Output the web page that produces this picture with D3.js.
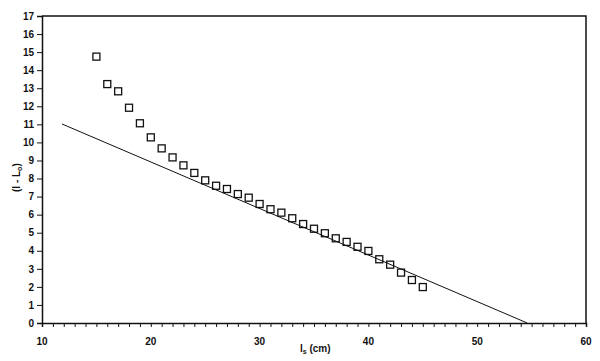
<!DOCTYPE html>
<html><head><meta charset="utf-8">
<script src="https://cdn.jsdelivr.net/npm/d3@7"></script>
<style>body{margin:0;background:#fff}svg{display:block}text{font-family:"Liberation Sans",Arial,sans-serif;font-weight:bold;fill:#111}</style>
</head><body><svg id="c" width="600" height="361"></svg>
<script>
const xValues = [15,16,17,18,19,20,21,22,23,24,25,26,27,28,29,30,31,32,33,34,35,36,37,38,39,40,41,42,43,44,45];
const yValues = [14.75,13.23,12.83,11.92,11.06,10.28,9.67,9.17,8.73,8.31,7.9,7.6,7.42,7.14,6.94,6.59,6.3,6.11,5.8,5.48,5.22,4.97,4.69,4.49,4.22,3.99,3.53,3.23,2.79,2.38,1.99];
const fitLine = [[11.84,11.02],[54.6,0]];
const xTicks = [10,20,30,40,50,60];
const yTicks = [0,1,2,3,4,5,6,7,8,9,10,11,12,13,14,15,16,17];

const svg = d3.select("#c");
const x = d3.scaleLinear().domain([10,60]).range([42,586]);
const y = d3.scaleLinear().domain([0,17]).range([323,16]);

// frame
svg.append("path").attr("d",`M${x(10)},${y(17)}H${x(60)}V${y(0)}`).attr("fill","none").attr("stroke","#111").attr("stroke-width",1.5);

// x axis
const xa = svg.append("g").attr("transform",`translate(0,${y(0)})`)
  .call(d3.axisBottom(x).tickValues(d3.range(10,61,1)).tickSize(4).tickFormat(""));
xa.select(".domain").attr("stroke","#111").attr("stroke-width",1.5);
xa.selectAll(".tick line").attr("stroke","#111").attr("stroke-width",1);
svg.selectAll(".xlab").data(xTicks).enter().append("text")
  .attr("x",d=>x(d)).attr("y",345).attr("text-anchor","middle").attr("font-size",10).text(d=>d);

// y axis
const ya = svg.append("g").attr("transform",`translate(${x(10)},0)`)
  .call(d3.axisLeft(y).tickValues(yTicks).tickSize(5).tickPadding(3));
ya.select(".domain").attr("stroke","#111").attr("stroke-width",1.5);
ya.selectAll(".tick line").attr("stroke","#111").attr("stroke-width",1);
ya.selectAll(".tick text").attr("font-size",10).attr("font-family","Liberation Sans, Arial, sans-serif").attr("font-weight","bold").attr("fill","#111");

// fit line
svg.append("line").attr("x1",x(fitLine[0][0])).attr("y1",y(fitLine[0][1]))
  .attr("x2",x(fitLine[1][0])).attr("y2",y(fitLine[1][1])).attr("stroke","#111").attr("stroke-width",1);

// points
svg.selectAll(".pt").data(xValues).enter().append("rect")
  .attr("x",(d)=>x(d)-3.5).attr("y",(d,i)=>y(yValues[i])-3.5).attr("width",7).attr("height",7)
  .attr("fill","none").attr("stroke","#111").attr("stroke-width",1.3);

// labels
const xl = svg.append("text").attr("x",300).attr("y",352).attr("font-size",10);
xl.append("tspan").text("l");
xl.append("tspan").attr("font-size",7).attr("dy",2).text("s");
xl.append("tspan").attr("dy",-2).text(" (cm)");

const yl = svg.append("text").attr("transform","translate(20,192) rotate(-90)").attr("font-size",10);
yl.append("tspan").text("(l - L");
yl.append("tspan").attr("font-size",7).attr("dy",2).text("o");
yl.append("tspan").attr("dy",-2).text(")");
</script></body></html>
